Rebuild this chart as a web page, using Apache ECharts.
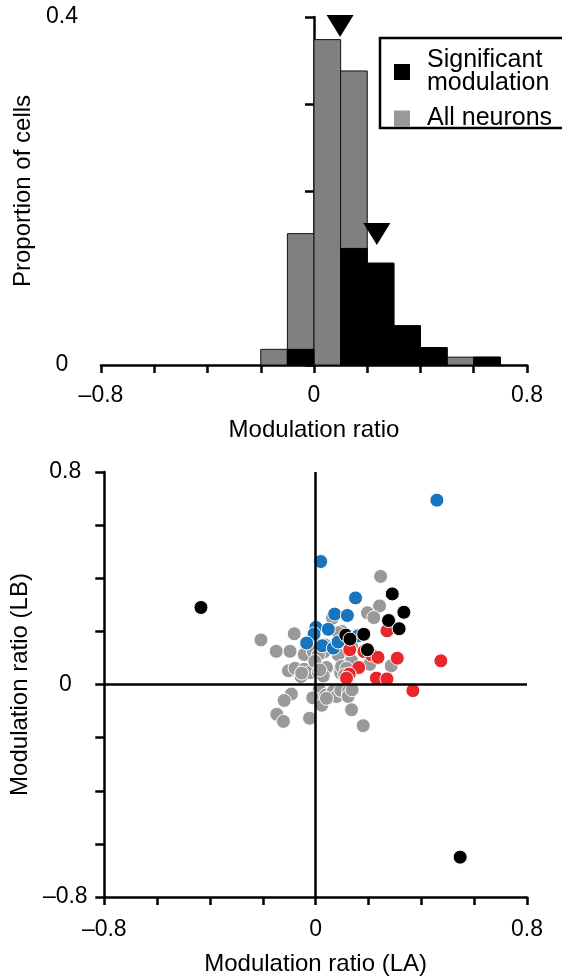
<!DOCTYPE html>
<html>
<head>
<meta charset="utf-8">
<script src="https://cdn.jsdelivr.net/npm/echarts@6/dist/echarts.min.js"></script>
<style>
html,body{margin:0;padding:0;background:#fff;}
#chart{width:562px;height:979px;}
</style>
</head>
<body>
<div id="chart"></div>
<script>
// ---------- Histogram data (top panel) ----------
var binStarts = [-0.2, -0.1, 0.0, 0.1, 0.2, 0.3, 0.4, 0.5, 0.6];
var binEnds   = [-0.1,  0.0, 0.1, 0.2, 0.3, 0.4, 0.5, 0.6, 0.7];
var allNeurons  = [0.018, 0.151, 0.374, 0.338, 0.117, 0.045, 0.020, 0.009, 0.009];
var significant = [0.000, 0.018, 0.000, 0.134, 0.117, 0.045, 0.020, 0.000, 0.009];
// mean markers (arrowheads): x position and tip height
var markerX = [0.098, 0.236];
var markerY = [0.377, 0.138];

// ---------- Scatter data (bottom panel): [LA, LB] ----------
var grayPts = [
  [0.246,0.407],[0.242,0.296],[0.196,0.270],[0.220,0.252],[0.064,0.250],[0.098,0.200],
  [-0.081,0.191],[-0.207,0.168],[-0.149,0.125],[-0.097,0.125],[-0.043,0.113],[-0.009,0.124],
  [0.031,0.122],[0.035,0.149],[0.085,0.195],[0.123,0.105],[0.095,0.102],[0.085,0.112],
  [0.010,0.112],[0.136,0.143],[0.117,0.072],[0.092,0.050],[0.110,0.065],[0.136,0.089],
  [0.205,0.076],[0.286,0.070],[-0.103,0.052],[-0.078,0.061],[-0.055,0.030],[-0.043,0.057],
  [-0.021,0.045],[0.010,0.047],[0.041,0.064],[0.029,0.032],[-0.003,0.087],[0.095,0.043],
  [0.016,0.055],[0.098,0.068],[0.117,0.061],[0.110,0.036],[-0.053,0.043],
  [0.013,-0.020],[-0.011,-0.050],[0.038,-0.040],[0.067,-0.026],[0.079,-0.045],[0.095,-0.022],
  [0.125,-0.024],[0.123,-0.045],[0.138,-0.020],[0.023,-0.078],[0.041,-0.052],[-0.092,-0.036],
  [-0.119,-0.060],[-0.147,-0.112],[-0.122,-0.139],[-0.023,-0.127],[0.136,-0.095],[0.180,-0.155]
];
var bluePts = [
  [0.459,0.694],[0.019,0.463],[0.151,0.326],[0.072,0.265],[0.120,0.260],[0.001,0.215],
  [-0.006,0.190],[0.048,0.208],[-0.034,0.156],[0.025,0.146],[0.067,0.137],[0.085,0.160],
  [0.160,0.183]
];
var redPts = [
  [0.270,0.202],[0.129,0.131],[0.183,0.124],[0.211,0.112],[0.236,0.102],[0.309,0.099],
  [0.474,0.089],[0.163,0.064],[0.127,0.039],[0.117,0.024],[0.230,0.024],[0.270,0.021],
  [0.368,-0.023]
];
var blackPts = [
  [-0.434,0.290],[0.547,-0.650],[0.290,0.341],[0.334,0.272],[0.276,0.241],[0.316,0.210],
  [0.114,0.186],[0.182,0.189],[0.130,0.171],[0.196,0.131]
];

// ---------- Labels ----------
var histXTickLabels = {'-0.8':'\u20130.8','0':'0','0.8':'0.8'};
var histYTickLabels = {'0':'0','0.4':'0.4'};
var scatXTickLabels = {'-0.8':'\u20130.8','0':'0','0.8':'0.8'};
var scatYTickLabels = {'-0.8':'\u20130.8','0':'0','0.8':'0.8'};

var FONT = '"Liberation Sans", Arial, Helvetica, sans-serif';

function pick(map){
  return function(v){
    var k = String(Math.round(v*10)/10);
    if (k === '-0') k = '0';
    return map.hasOwnProperty(k) ? map[k] : '';
  };
}

function histData(vals){
  var out = [];
  for (var i=0;i<vals.length;i++) out.push([binStarts[i], binEnds[i], vals[i]]);
  return out;
}
function renderBin(params, api){
  var h = api.value(2);
  if (!(h > 0)) return null;
  var p0 = api.coord([api.value(0), h]);
  var p1 = api.coord([api.value(1), 0]);
  return {
    type:'rect',
    shape:{x:p0[0], y:p0[1], width:p1[0]-p0[0], height:p1[1]-p0[1]},
    style: api.style()
  };
}

var LW = 2.5;
var axisLineStyle = {color:'#000', width:LW};
var tickStyle = {color:'#000', width:LW};
var labelStyle = {color:'#000', fontSize:23, fontFamily:FONT};
var nameStyle = {color:'#000', fontSize:24, fontFamily:FONT};

var chart = echarts.init(document.getElementById('chart'), null, {renderer:'canvas'});
chart.setOption({
  backgroundColor:'#fff',
  animation:false,
  grid:[
    {left:101, right:35, top:17, height:348},
    {left:101, right:35, top:472, height:425}
  ],
  legend:{
    orient:'vertical',
    left:389, top:43,
    itemWidth:16, itemHeight:16, itemGap:10,
    icon:'rect',
    textStyle:{color:'#000', fontSize:25, fontFamily:FONT, lineHeight:23, padding:[0,0,0,12]},
    formatter:function(n){ return n === 'Significant modulation' ? 'Significant\nmodulation' : n; },
    data:[
      {name:'Significant modulation', itemStyle:{color:'#000', borderWidth:0}},
      {name:'All neurons', itemStyle:{color:'#999999', borderWidth:0}}
    ]
  },
  graphic:[
    {type:'rect', shape:{x:380, y:38, width:200, height:90}, style:{fill:'none', stroke:'#000', lineWidth:2.5}, z:100}
  ],
  xAxis:[
    {gridIndex:0, type:'value', min:-0.8, max:0.8, interval:0.2,
     axisLine:{lineStyle:axisLineStyle}, axisTick:{length:8, lineStyle:tickStyle},
     splitLine:{show:false},
     axisLabel:Object.assign({formatter:pick(histXTickLabels), margin:19, showMinLabel:true, showMaxLabel:true}, labelStyle),
     name:'Modulation ratio', nameLocation:'middle', nameGap:53, nameTextStyle:nameStyle},
    {gridIndex:1, type:'value', min:-0.8, max:0.8, interval:0.2,
     axisLine:{onZero:false, lineStyle:axisLineStyle}, axisTick:{length:8, lineStyle:tickStyle},
     splitLine:{show:false},
     axisLabel:Object.assign({formatter:pick(scatXTickLabels), margin:21, showMinLabel:true, showMaxLabel:true}, labelStyle),
     name:'Modulation ratio (LA)', nameLocation:'middle', nameGap:55, nameTextStyle:nameStyle}
  ],
  yAxis:[
    {gridIndex:0, type:'value', min:0, max:0.4, interval:0.1,
     axisLine:{lineStyle:axisLineStyle}, axisTick:{length:9, lineStyle:tickStyle},
     splitLine:{show:false},
     axisLabel:Object.assign({formatter:pick(histYTickLabels), margin:39, align:'center', showMinLabel:true, showMaxLabel:true}, labelStyle),
     name:'Proportion of cells', nameLocation:'middle', nameGap:64, nameTextStyle:nameStyle},
    {gridIndex:1, type:'value', min:-0.8, max:0.8, interval:0.2,
     axisLine:{onZero:false, lineStyle:axisLineStyle}, axisTick:{length:9, lineStyle:tickStyle},
     splitLine:{show:false},
     axisLabel:Object.assign({formatter:pick(scatYTickLabels), margin:39, align:'center', showMinLabel:true, showMaxLabel:true}, labelStyle),
     name:'Modulation ratio (LB)', nameLocation:'middle', nameGap:61, nameTextStyle:nameStyle}
  ],
  series:[
    {name:'All neurons', type:'custom', xAxisIndex:0, yAxisIndex:0,
     renderItem:renderBin, encode:{x:[0,1], y:2},
     itemStyle:{color:'#808080', borderColor:'#111', borderWidth:1},
     data:histData(allNeurons), z:2},
    {name:'Significant modulation', type:'custom', xAxisIndex:0, yAxisIndex:0,
     renderItem:renderBin, encode:{x:[0,1], y:2},
     itemStyle:{color:'#000', borderColor:'#000', borderWidth:1},
     data:histData(significant), z:3},
    {name:'means', type:'scatter', xAxisIndex:0, yAxisIndex:0,
     symbol:'path://M0,0 L2,0 L1,1.65 Z', symbolSize:[27,22], symbolOffset:[0,'-50%'],
     itemStyle:{color:'#000', opacity:1},
     data:markerX.map(function(x,i){return [x, markerY[i]];}), z:4},
    {name:'gray', type:'scatter', xAxisIndex:1, yAxisIndex:1, symbolSize:14,
     itemStyle:{color:'#999999', borderColor:'#fff', borderWidth:1, opacity:1},
     data:grayPts, z:2},
    {name:'blue', type:'scatter', xAxisIndex:1, yAxisIndex:1, symbolSize:14,
     itemStyle:{color:'#1874bd', borderColor:'#fff', borderWidth:1, opacity:1},
     data:bluePts, z:3},
    {name:'red', type:'scatter', xAxisIndex:1, yAxisIndex:1, symbolSize:14,
     itemStyle:{color:'#e8282b', borderColor:'#fff', borderWidth:1, opacity:1},
     data:redPts, z:4},
    {name:'black', type:'scatter', xAxisIndex:1, yAxisIndex:1, symbolSize:14,
     itemStyle:{color:'#000', borderColor:'#fff', borderWidth:1, opacity:1},
     data:blackPts, z:5},
    {name:'zero', type:'scatter', xAxisIndex:1, yAxisIndex:1, data:[], z:6,
     markLine:{silent:true, symbol:['none','none'], label:{show:false},
       lineStyle:{color:'#000', width:LW, type:'solid'},
       emphasis:{disabled:true},
       data:[{xAxis:0},{yAxis:0}]}}
  ]
});
</script>
</body>
</html>
